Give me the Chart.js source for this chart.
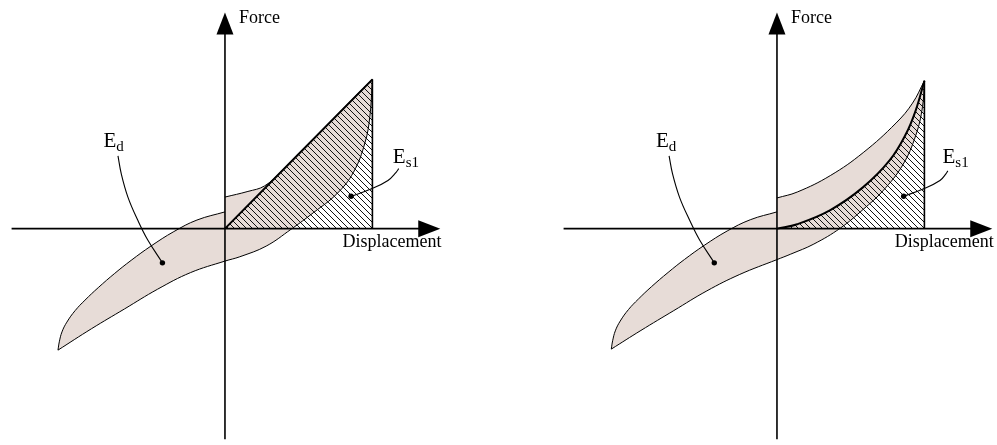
<!DOCTYPE html>
<html><head><meta charset="utf-8">
<script src="https://cdn.jsdelivr.net/npm/chart.js@4.4.1/dist/chart.umd.min.js"></script>
<style>
html,body{margin:0;padding:0;background:#fff;width:997px;height:445px;overflow:hidden;}
.panel{position:absolute;top:0;width:445px;height:445px;}
canvas{display:block;}
</style></head><body>
<div class="panel" style="left:0px"><canvas id="c1" width="445" height="445"></canvas></div>
<div class="panel" style="left:552px"><canvas id="c2" width="445" height="445"></canvas></div>
<script>
// ---------- DATA (units: peak displacement ≈ 1, peak force ≈ 1) ----------
const axisXExtent = [-1.44, 1.453];
const axisYExtent = [-1.422, 1.458];
const axisTitles = ['Displacement', 'Force'];
const energyMain = ['E', 'E'];
const energySub = ['d', 's1'];

// Panel 1
const p1LoadLeft = [[-1.127,-0.82],[-1.118,-0.764],[-1.1,-0.697],[-1.067,-0.631],[-1.011,-0.553],[-0.945,-0.483],[-0.855,-0.398],[-0.744,-0.302],[-0.633,-0.214],[-0.5,-0.118],[-0.345,-0.02],[-0.189,0.058],[0,0.113]];
const p1LoadRight = [[0,0.213],[0.155,0.251],[0.267,0.288],[0.378,0.384],[0.489,0.497],[0.6,0.61],[0.711,0.722],[0.822,0.835],[0.933,0.947],[0.995,1.007]];
const p1Unload = [[-1.127,-0.82],[-0.9,-0.675],[-0.678,-0.542],[-0.455,-0.409],[-0.233,-0.297],[0,-0.219],[0.1,-0.19],[0.278,-0.118],[0.445,-0.005],[0.6,0.11],[0.755,0.235],[0.867,0.38],[0.945,0.58],[0.978,0.758],[0.995,1.007]];
const p1Stored = [[0,0],[0.995,1.007]];
const p1Peak = [0.995, 1.007];
const p1LeaderEd = [[-0.722,0.491],[-0.7,0.371],[-0.655,0.213],[-0.589,0.058],[-0.522,-0.075],[-0.422,-0.231]];
const p1LeaderEs = [[0.851,0.218],[0.989,0.269],[1.1,0.325],[1.155,0.38],[1.173,0.405]];
const p1Dots = [[-0.422,-0.231],[0.851,0.218]];
const p1TitleAnchors = [[0.793,-0.124],[0.095,1.387]];
const p1EnergyAnchors = [[-0.82,0.548],[1.133,0.44]];

// Panel 2
const p2LoadLeft = [[-1.118,-0.813],[-1.109,-0.757],[-1.091,-0.69],[-1.058,-0.624],[-1.002,-0.546],[-0.936,-0.476],[-0.846,-0.391],[-0.735,-0.296],[-0.624,-0.208],[-0.491,-0.113],[-0.336,-0.016],[-0.18,0.06],[0,0.113]];
const p2LoadRight = [[0,0.207],[0.137,0.247],[0.36,0.358],[0.582,0.513],[0.804,0.713],[0.915,0.847],[0.995,0.998]];
const p2Unload = [[-1.118,-0.813],[-0.918,-0.687],[-0.696,-0.553],[-0.473,-0.42],[-0.251,-0.309],[0,-0.209],[0.093,-0.172],[0.249,-0.104],[0.427,0.003],[0.582,0.13],[0.715,0.255],[0.849,0.43],[0.937,0.63],[0.982,0.82],[0.995,0.998]];
const p2Stored = [[0,0],[0.137,0.03],[0.36,0.125],[0.582,0.28],[0.76,0.46],[0.871,0.64],[0.937,0.8],[0.995,0.998]];
const p2Peak = [0.995, 0.998];
const p2LeaderEd = [[-0.728,0.491],[-0.705,0.371],[-0.658,0.213],[-0.59,0.058],[-0.523,-0.075],[-0.423,-0.231]];
const p2LeaderEs = [[0.855,0.218],[0.99,0.269],[1.1,0.325],[1.14,0.37],[1.153,0.39]];
const p2Dots = [[-0.423,-0.231],[0.855,0.218]];
const p2TitleAnchors = [[0.795,-0.124],[0.095,1.387]];
const p2EnergyAnchors = [[-0.817,0.548],[1.117,0.44]];

// ---------- STYLE ----------
const PINK = '#e7dcd7';
const INK = '#000';
const SERIF = '"Liberation Serif","Times New Roman",serif';
const CURVE_TENSION = 0.4;
const HATCH_STEP = 6;

function makeHatch(ctxRef){
  const c = document.createElement('canvas');
  const n = HATCH_STEP;
  c.width = n; c.height = n;
  const g = c.getContext('2d');
  g.fillStyle = '#111';
  for (let i = 0; i < n; i++) g.fillRect(i, i, 1, 1);
  return ctxRef.createPattern(c, 'repeat');
}

const pts = a => a.map(p => ({x: p[0], y: p[1]}));

function labelPlugin(titleAnchors, energyAnchors){
  return {
    id: 'diagramLabels',
    afterDatasetsDraw(chart){
      const {ctx} = chart;
      const sx = chart.scales.x, sy = chart.scales.y;
      ctx.save();
      ctx.fillStyle = INK;
      // arrowheads at the axis ends
      const x0 = sx.getPixelForValue(0), y0 = sy.getPixelForValue(0);
      const xt = sx.getPixelForValue(axisXExtent[1]);
      const yt = sy.getPixelForValue(axisYExtent[1]);
      ctx.beginPath();
      ctx.moveTo(xt, y0); ctx.lineTo(xt - 22, y0 - 8.5); ctx.lineTo(xt - 22, y0 + 8.5); ctx.closePath(); ctx.fill();
      ctx.beginPath();
      ctx.moveTo(x0, yt); ctx.lineTo(x0 - 8.5, yt + 22); ctx.lineTo(x0 + 8.5, yt + 22); ctx.closePath(); ctx.fill();
      // axis titles
      ctx.textAlign = 'left';
      ctx.textBaseline = 'alphabetic';
      ctx.font = '18px ' + SERIF;
      axisTitles.forEach((t, i) => {
        ctx.fillText(t, sx.getPixelForValue(titleAnchors[i][0]), sy.getPixelForValue(titleAnchors[i][1]));
      });
      // energy labels with subscripts
      energyMain.forEach((t, i) => {
        const px = sx.getPixelForValue(energyAnchors[i][0]);
        const py = sy.getPixelForValue(energyAnchors[i][1]);
        ctx.font = '21px ' + SERIF;
        ctx.fillText(t, px, py);
        const w = ctx.measureText(t).width;
        ctx.font = '15px ' + SERIF;
        ctx.fillText(energySub[i], px + w, py + 4);
      });
      ctx.restore();
    }
  };
}

function makePanel(id, d){
  const canvas = document.getElementById(id);
  const ctx = canvas.getContext('2d');
  const hatch = makeHatch(ctx);
  const base = {pointRadius: 0, pointHoverRadius: 0, borderColor: INK, fill: false, clip: false, tension: 0};
  const datasets = [
    Object.assign({}, base, {data: pts(d.loadLeft), borderWidth: 1, fill: 2, backgroundColor: PINK, tension: CURVE_TENSION, order: 10}),
    Object.assign({}, base, {data: pts(d.loadRight), borderWidth: 1, fill: 2, backgroundColor: PINK, tension: CURVE_TENSION, order: 10}),
    Object.assign({}, base, {data: pts(d.unload), borderWidth: 1, tension: CURVE_TENSION, order: 9}),
    Object.assign({}, base, {data: pts(d.stored), borderWidth: 2, fill: 'origin', backgroundColor: hatch, tension: CURVE_TENSION, order: 8}),
    Object.assign({}, base, {data: pts([[d.peak[0], 0], d.peak]), borderWidth: 1.6, order: 7}),
    Object.assign({}, base, {data: pts([[axisXExtent[0], 0], [axisXExtent[1] - 0.05, 0]]), borderWidth: 1.6, order: 6}),
    Object.assign({}, base, {data: pts([[0, axisYExtent[0]], [0, axisYExtent[1] - 0.05]]), borderWidth: 1.6, order: 6}),
    Object.assign({}, base, {data: pts(d.leaderEd), borderWidth: 1.1, tension: 0.4, order: 5}),
    Object.assign({}, base, {data: pts(d.leaderEs), borderWidth: 1.1, tension: 0.4, order: 5}),
    Object.assign({}, base, {data: pts(d.dots), showLine: false, pointRadius: 2.7, pointBackgroundColor: INK, pointBorderWidth: 0, order: 4})
  ];
  return new Chart(ctx, {
    type: 'line',
    data: {datasets},
    options: {
      responsive: false,
      animation: false,
      events: [],
      layout: {padding: 0},
      scales: {
        x: {type: 'linear', min: -1.5, max: 1.4667, display: false},
        y: {type: 'linear', min: -1.442, max: 1.5247, display: false}
      },
      plugins: {
        legend: {display: false},
        tooltip: {enabled: false},
        filler: {drawTime: 'beforeDatasetsDraw', propagate: false}
      }
    },
    plugins: [labelPlugin(d.titleAnchors, d.energyAnchors)]
  });
}

makePanel('c1', {loadLeft: p1LoadLeft, loadRight: p1LoadRight, unload: p1Unload, stored: p1Stored, peak: p1Peak,
  leaderEd: p1LeaderEd, leaderEs: p1LeaderEs, dots: p1Dots, titleAnchors: p1TitleAnchors, energyAnchors: p1EnergyAnchors});
makePanel('c2', {loadLeft: p2LoadLeft, loadRight: p2LoadRight, unload: p2Unload, stored: p2Stored, peak: p2Peak,
  leaderEd: p2LeaderEd, leaderEs: p2LeaderEs, dots: p2Dots, titleAnchors: p2TitleAnchors, energyAnchors: p2EnergyAnchors});
</script>
</body></html>
